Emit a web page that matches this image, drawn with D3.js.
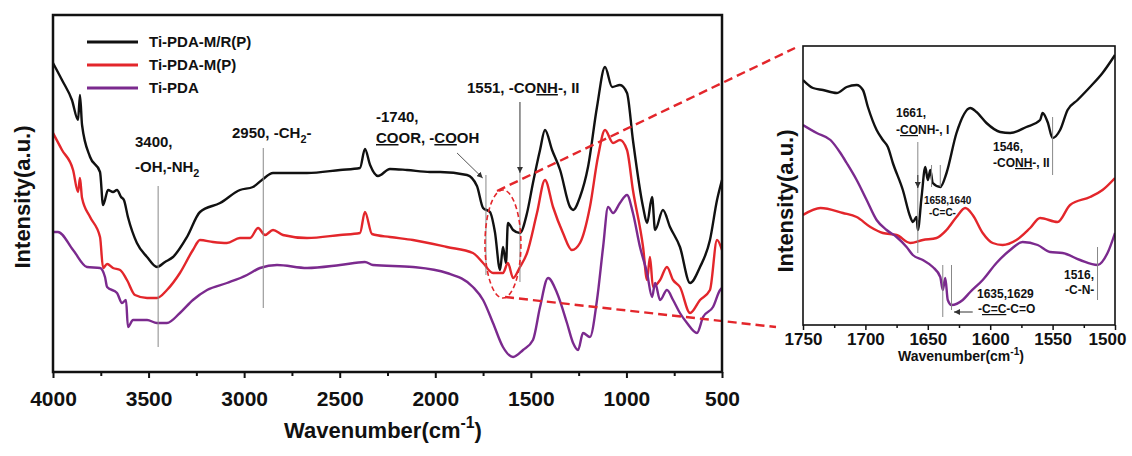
<!DOCTYPE html>
<html>
<head>
<meta charset="utf-8">
<script src="https://cdn.jsdelivr.net/npm/d3@7"></script>
<style>
body { margin: 0; background: #fff; }
text { font-family: "Liberation Sans", Arial, sans-serif; font-weight: bold; fill: #111; }
</style>
</head>
<body>
<svg width="1132" height="456"></svg>
<script>
// series: [wavenumber (cm-1), intensity (a.u.)]
var mrpMain = [[4000,309],[3953,292],[3901,272],[3869,252],[3859,277],[3848,247],[3806,215],[3754,200],[3738,167],[3712,182],[3686,180],[3665,182],[3644,175],[3629,172],[3608,155],[3561,129],[3508,115],[3456,105],[3414,110],[3372,115],[3299,135],[3231,160],[3126,169],[3022,182],[2954,185],[2907,192],[2849,199],[2671,199],[2498,202],[2394,204],[2368,223],[2341,207],[2300,196],[2237,203],[2148,202],[2028,200],[1975,200],[1834,197],[1782,186],[1750,164],[1714,160],[1688,140],[1661,102],[1646,125],[1630,109],[1620,149],[1593,142],[1557,139],[1520,159],[1489,189],[1452,222],[1426,242],[1389,222],[1347,202],[1295,165],[1279,162],[1243,175],[1201,205],[1154,265],[1112,305],[1075,285],[1034,287],[997,279],[966,232],[913,165],[892,149],[866,175],[850,142],[809,162],[772,145],[720,125],[667,89],[615,105],[563,132],[526,172],[500,192]];
var mpMain = [[4000,239],[3953,222],[3895,202],[3869,180],[3859,194],[3848,174],[3806,155],[3754,135],[3738,104],[3717,108],[3686,104],[3649,102],[3613,92],[3571,77],[3508,74],[3456,74],[3404,82],[3336,99],[3268,122],[3231,132],[3163,130],[3090,129],[3022,134],[2969,134],[2927,144],[2891,137],[2849,142],[2797,137],[2671,134],[2498,137],[2394,139],[2368,160],[2331,138],[2237,135],[2117,132],[1939,125],[1803,119],[1750,109],[1698,99],[1646,99],[1620,109],[1593,94],[1557,105],[1520,119],[1468,159],[1426,192],[1384,165],[1332,139],[1285,122],[1243,129],[1191,165],[1149,215],[1112,242],[1070,229],[1034,232],[997,222],[966,182],[913,125],[892,92],[877,115],[861,85],[824,92],[788,105],[756,92],[720,85],[667,59],[615,72],[563,82],[526,132],[500,122]];
var pdaMain = [[4000,140],[3974,140],[3895,122],[3822,105],[3754,104],[3728,95],[3717,85],[3665,79],[3639,69],[3618,72],[3608,45],[3581,52],[3508,52],[3456,49],[3404,49],[3336,59],[3268,72],[3194,82],[3090,89],[2985,97],[2917,104],[2828,107],[2671,104],[2498,107],[2368,110],[2326,107],[2117,105],[1939,99],[1803,85],[1750,72],[1698,49],[1646,25],[1593,15],[1541,22],[1489,32],[1452,65],[1410,94],[1363,79],[1311,49],[1279,29],[1253,22],[1227,39],[1191,35],[1154,72],[1122,125],[1096,165],[1070,159],[1034,169],[997,177],[966,159],[929,125],[892,99],[866,75],[850,89],[824,72],[788,82],[756,72],[720,59],[683,49],[631,39],[599,55],[547,65],[510,82],[500,84]];

var mrpInset = [[1750,245],[1742,237],[1734,235],[1723,232],[1715,238],[1707,240],[1702,235],[1698,218],[1691,195],[1686,185],[1682,178],[1678,162],[1670,135],[1664,108],[1662,103],[1659,108],[1658,95],[1655,128],[1652,158],[1650,145],[1648,155],[1646,142],[1640,138],[1635,152],[1627,192],[1616,217],[1611,213],[1603,202],[1592,193],[1584,192],[1571,198],[1560,205],[1558,212],[1554,203],[1550,187],[1544,195],[1538,215],[1530,225],[1520,238],[1510,252],[1500,270]];
var mpInset = [[1750,110],[1736,117],[1718,112],[1707,108],[1696,98],[1686,92],[1675,90],[1664,82],[1654,85],[1643,87],[1635,95],[1627,108],[1620,117],[1614,110],[1606,92],[1598,82],[1590,80],[1579,85],[1568,97],[1560,107],[1546,103],[1536,120],[1520,128],[1510,135],[1500,147]];
var pdaInset = [[1750,200],[1739,192],[1728,185],[1720,172],[1715,162],[1707,145],[1699,125],[1691,105],[1683,95],[1675,88],[1667,78],[1662,70],[1654,65],[1646,58],[1640,48],[1638,35],[1636,47],[1634,25],[1631,20],[1622,25],[1616,33],[1606,45],[1595,62],[1584,75],[1574,83],[1562,80],[1552,73],[1542,72],[1528,65],[1514,60],[1506,72],[1500,92]];

var seriesNames = ["Ti-PDA-M/R(P)", "Ti-PDA-M(P)", "Ti-PDA"];
var seriesColors = ["#111111", "#e3262b", "#7b2a8e"];
var mainTicks = [4000, 3500, 3000, 2500, 2000, 1500, 1000, 500];
var mainMinor = [3750, 3250, 2750, 2250, 1750, 1250, 750];
var insetTicks = [1750, 1700, 1650, 1600, 1550, 1500];
var insetMinor = [1725, 1675, 1625, 1575, 1525];

var svg = d3.select("svg");

var x = d3.scaleLinear().domain([4000, 500]).range([53, 722]);
var y = d3.scaleLinear().domain([0, 357]).range([372, 15]);
var ix = d3.scaleLinear().domain([1750, 1500]).range([803, 1115]);
var iy = d3.scaleLinear().domain([0, 279]).range([325, 46]);

var defs = svg.append("defs");
defs.append("marker")
    .attr("id", "arrow")
    .attr("viewBox", "0 0 10 10")
    .attr("refX", 10).attr("refY", 5)
    .attr("markerWidth", 6).attr("markerHeight", 6)
    .attr("orient", "auto")
    .append("path").attr("d", "M0,0L10,5L0,10z").attr("fill", "#333");
defs.append("clipPath").attr("id", "insetClip")
    .append("rect").attr("x", 803).attr("y", 46).attr("width", 312).attr("height", 279);

function richText(g, px, py, size, parts) {
    var t = g.append("text").attr("x", px).attr("y", py).attr("font-size", size);
    var shift = 0;
    parts.forEach(function(p) {
        var want = p[1] === "sub" ? size * 0.3 : (p[1] === "sup" ? -size * 0.45 : 0);
        var s = t.append("tspan").text(p[0]);
        if (want !== shift) s.attr("dy", want - shift);
        shift = want;
        if (p[1] === "sub" || p[1] === "sup") s.attr("font-size", size * 0.72);
        if (p[1] === "u") s.style("text-decoration", "underline");
    });
    return t;
}

// ---------- main chart ----------
var main = svg.append("g");

var line = d3.line().x(function(d) { return x(d[0]); }).y(function(d) { return y(d[1]); }).curve(d3.curveMonotoneX);
[mrpMain, mpMain, pdaMain].forEach(function(s, i) {
    main.append("path").datum(s)
        .attr("d", line)
        .attr("fill", "none")
        .attr("stroke", seriesColors[i])
        .attr("stroke-width", 2.4)
        .attr("stroke-linejoin", "round");
});

// annotation guide lines
var guide = main.append("g").attr("stroke", "#888").attr("stroke-width", 1);
guide.append("line").attr("x1", x(3450)).attr("x2", x(3450)).attr("y1", y(186)).attr("y2", y(25));
guide.append("line").attr("x1", x(2900)).attr("x2", x(2900)).attr("y1", y(224)).attr("y2", y(64));
guide.append("line").attr("x1", x(1735)).attr("x2", x(1735)).attr("y1", y(197)).attr("y2", y(97));
guide.append("line").attr("x1", x(1557)).attr("x2", x(1557)).attr("y1", y(199)).attr("y2", y(90));
guide.append("line").attr("x1", x(1557)).attr("x2", x(1557)).attr("y1", y(270)).attr("y2", y(199))
    .attr("stroke", "#333").attr("marker-end", "url(#arrow)");
guide.append("line").attr("x1", x(1886)).attr("x2", x(1752)).attr("y1", y(219)).attr("y2", y(194))
    .attr("stroke", "#555").attr("marker-end", "url(#arrow)");

// zoom ellipse and leader lines
var ex = x(1646), ey = y(128);
main.append("ellipse")
    .attr("cx", ex).attr("cy", ey)
    .attr("rx", x(1552) - ex).attr("ry", y(74) - ey)
    .attr("fill", "none").attr("stroke", "#e3262b")
    .attr("stroke-width", 1.6).attr("stroke-dasharray", "5,3");
main.append("line")
    .attr("x1", x(1677)).attr("y1", y(181)).attr("x2", 795).attr("y2", 48)
    .attr("stroke", "#e3262b").attr("stroke-width", 2.4).attr("stroke-dasharray", "9,5");
main.append("line")
    .attr("x1", x(1635)).attr("y1", y(75)).attr("x2", 776).attr("y2", 327)
    .attr("stroke", "#e3262b").attr("stroke-width", 2.4).attr("stroke-dasharray", "9,5");

// frame
main.append("rect").attr("x", 53).attr("y", 15).attr("width", 669).attr("height", 357)
    .attr("fill", "none").attr("stroke", "#111").attr("stroke-width", 2.5);

var xAxis = main.append("g").attr("transform", "translate(0,372)")
    .call(d3.axisBottom(x).tickValues(mainTicks).tickFormat(d3.format("d")).tickSize(6).tickPadding(13));
xAxis.select(".domain").remove();
xAxis.selectAll("line").attr("stroke", "#111").attr("stroke-width", 2);
xAxis.selectAll("text").attr("font-size", 21).attr("font-family", null).style("fill", "#111");
var xMinor = main.append("g").attr("transform", "translate(0,372)")
    .call(d3.axisBottom(x).tickValues(mainMinor).tickFormat("").tickSize(4));
xMinor.select(".domain").remove();
xMinor.selectAll("line").attr("stroke", "#111").attr("stroke-width", 2);

richText(main, 383, 438, 22, [["Wavenumber(cm"], ["-1", "sup"], [")"]]).attr("text-anchor", "middle");
main.append("text").attr("transform", "translate(30,197) rotate(-90)")
    .attr("text-anchor", "middle").attr("font-size", 22).text("Intensity(a.u.)");

// legend
seriesNames.forEach(function(n, i) {
    var ly = 42 + i * 23;
    main.append("line").attr("x1", 87).attr("x2", 138).attr("y1", ly).attr("y2", ly)
        .attr("stroke", seriesColors[i]).attr("stroke-width", 3);
    main.append("text").attr("x", 149).attr("y", ly + 5).attr("font-size", 15).text(n);
});

richText(main, 135, 147, 15, [["3400,"]]);
richText(main, 135, 172, 15, [["-OH,-NH"], ["2", "sub"]]);
richText(main, 232, 138, 15, [["2950, -CH"], ["2", "sub"], ["-"]]);
richText(main, 376, 122, 15, [["-1740,"]]);
richText(main, 376, 143, 15, [["CO", "u"], ["OR, -"], ["CO", "u"], ["OH"]]);
richText(main, 467, 93, 15, [["1551, -CO"], ["NH", "u"], ["-, II"]]);

// ---------- inset ----------
var inset = svg.append("g");
var iline = d3.line().x(function(d) { return ix(d[0]); }).y(function(d) { return iy(d[1]); }).curve(d3.curveMonotoneX);
var icurves = inset.append("g").attr("clip-path", "url(#insetClip)");
[mrpInset, mpInset, pdaInset].forEach(function(s, i) {
    icurves.append("path").datum(s)
        .attr("d", iline)
        .attr("fill", "none")
        .attr("stroke", seriesColors[i])
        .attr("stroke-width", 2.4)
        .attr("stroke-linejoin", "round");
});

var ig = inset.append("g").attr("stroke", "#888").attr("stroke-width", 1);
ig.append("line").attr("x1", ix(1658)).attr("x2", ix(1658)).attr("y1", iy(183)).attr("y2", iy(72));
ig.append("line").attr("x1", ix(1658)).attr("x2", ix(1658)).attr("y1", iy(150)).attr("y2", iy(137))
    .attr("stroke", "#333").attr("marker-end", "url(#arrow)");
ig.append("line").attr("x1", ix(1647)).attr("x2", ix(1647)).attr("y1", iy(160)).attr("y2", iy(138));
ig.append("line").attr("x1", ix(1640)).attr("x2", ix(1640)).attr("y1", iy(160)).attr("y2", iy(138));
ig.append("line").attr("x1", ix(1550)).attr("x2", ix(1550)).attr("y1", iy(208)).attr("y2", iy(150));
ig.append("line").attr("x1", ix(1638)).attr("x2", ix(1638)).attr("y1", iy(60)).attr("y2", iy(8));
ig.append("line").attr("x1", ix(1631)).attr("x2", ix(1631)).attr("y1", iy(60)).attr("y2", iy(15));
ig.append("line").attr("x1", ix(1514)).attr("x2", ix(1514)).attr("y1", iy(78)).attr("y2", iy(25));
ig.append("line").attr("x1", ix(1614)).attr("x2", ix(1629)).attr("y1", iy(13)).attr("y2", iy(13))
    .attr("stroke", "#333").attr("marker-end", "url(#arrow)");

inset.append("rect").attr("x", 803).attr("y", 46).attr("width", 312).attr("height", 279)
    .attr("fill", "none").attr("stroke", "#111").attr("stroke-width", 1.6);

var ixAxis = inset.append("g").attr("transform", "translate(0,325)")
    .call(d3.axisBottom(ix).tickValues(insetTicks).tickFormat(d3.format("d")).tickSize(5).tickPadding(3));
ixAxis.select(".domain").remove();
ixAxis.selectAll("line").attr("stroke", "#111").attr("stroke-width", 1.5);
ixAxis.selectAll("text").attr("font-size", 17).attr("font-family", null).style("fill", "#111");
// keep the last label inside the page
ixAxis.selectAll("text").filter(function(d) { return d === 1500; }).attr("dx", -8);
var ixMinor = inset.append("g").attr("transform", "translate(0,325)")
    .call(d3.axisBottom(ix).tickValues(insetMinor).tickFormat("").tickSize(3));
ixMinor.select(".domain").remove();
ixMinor.selectAll("line").attr("stroke", "#111").attr("stroke-width", 1.5);

richText(inset, 961, 361, 14, [["Wavenumber(cm"], ["-1", "sup"], [")"]]).attr("text-anchor", "middle");
inset.append("text").attr("transform", "translate(793,201) rotate(-90)")
    .attr("text-anchor", "middle").attr("font-size", 22).text("Intensity(a.u.)");

richText(inset, 896, 117, 12, [["1661,"]]);
richText(inset, 896, 134, 12, [["-"], ["CO", "u"], ["NH-, I"]]);
richText(inset, 924, 204, 10, [["1658,1640"]]);
richText(inset, 929, 216, 10, [["-C=C-"]]);
richText(inset, 993, 151, 12, [["1546,"]]);
richText(inset, 993, 167, 12, [["-CO"], ["NH", "u"], ["-, II"]]);
richText(inset, 977, 298, 12, [["1635,1629"]]);
richText(inset, 978, 313, 12, [["-"], ["C=C", "u"], ["-C=O"]]);
richText(inset, 1064, 279, 12, [["1516,"]]);
richText(inset, 1065, 294, 12, [["-C-N-"]]);
</script>
</body>
</html>
